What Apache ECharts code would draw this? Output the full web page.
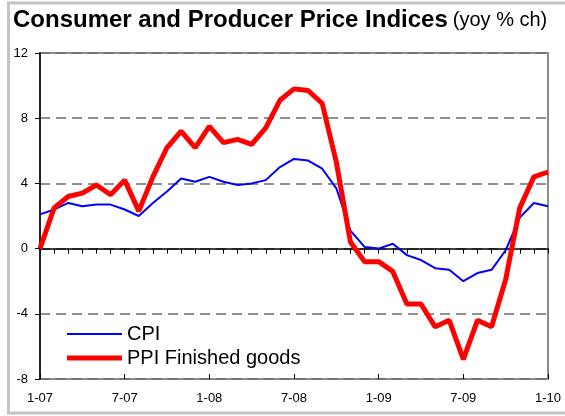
<!DOCTYPE html>
<html>
<head>
<meta charset="utf-8">
<script src="https://cdn.jsdelivr.net/npm/echarts@6/dist/echarts.min.js"></script>
<style>html,body{margin:0;padding:0;background:#fff}#c{width:565px;height:416px}</style>
</head>
<body>
<div id="c"></div>
<script>
var months = [
  '1-07','2-07','3-07','4-07','5-07','6-07','7-07','8-07','9-07','10-07','11-07','12-07',
  '1-08','2-08','3-08','4-08','5-08','6-08','7-08','8-08','9-08','10-08','11-08','12-08',
  '1-09','2-09','3-09','4-09','5-09','6-09','7-09','8-09','9-09','10-09','11-09','12-09',
  '1-10'
];
var cpi = [
  2.1, 2.4, 2.8, 2.6, 2.7, 2.7, 2.4, 2.0, 2.8, 3.5, 4.3, 4.1,
  4.4, 4.1, 3.9, 4.0, 4.2, 5.0, 5.5, 5.4, 4.9, 3.7, 1.1, 0.1,
  0.0, 0.3, -0.4, -0.7, -1.2, -1.3, -2.0, -1.5, -1.3, -0.1, 1.9, 2.8,
  2.6
];
var ppi = [
  0.0, 2.5, 3.2, 3.4, 3.9, 3.3, 4.2, 2.3, 4.4, 6.2, 7.2, 6.2,
  7.5, 6.5, 6.7, 6.4, 7.4, 9.1, 9.8, 9.7, 8.9, 5.3, 0.4, -0.8,
  -0.8, -1.4, -3.4, -3.4, -4.8, -4.4, -6.8, -4.4, -4.8, -1.9, 2.5, 4.4,
  4.7
];
var yTicks = {min: -8, max: 12, interval: 4};

var chart = echarts.init(document.getElementById('c'), null, {renderer: 'canvas'});
chart.setOption({
  animation: false,
  backgroundColor: '#fff',
  textStyle: {fontFamily: 'Liberation Sans, Arial, sans-serif'},
  title: {
    left: 8, top: 3,
    text: '{b|Consumer and Producer Price Indices} {n|(yoy % ch)}',
    textStyle: {
      rich: {
        b: {fontSize: 24, fontWeight: 'bold', color: '#000', fontFamily: 'Liberation Sans, Arial, sans-serif'},
        n: {fontSize: 20, fontWeight: 'normal', color: '#000', fontFamily: 'Liberation Sans, Arial, sans-serif'}
      }
    }
  },
  graphic: [{
    type: 'polyline',
    shape: {points: [[570, 3], [8.5, 3], [8.5, 413], [570, 413]]},
    style: {stroke: '#c4c4c4', lineWidth: 3, fill: null},
    silent: true, z: 0
  }],
  legend: {
    orient: 'vertical',
    left: 62, top: 319,
    itemWidth: 55, itemHeight: 14, itemGap: 4,
    symbolKeepAspect: true,
    itemStyle: {borderWidth: 0},
    textStyle: {fontSize: 20, color: '#000'},
    data: [
      {name: 'CPI', icon: 'path://M0,0H55V2H0Z'},
      {name: 'PPI Finished goods', icon: 'path://M0,0H55V5H0Z'}
    ]
  },
  grid: {
    left: 40, right: 17, top: 53, bottom: 37,
    show: true, borderColor: '#8a8a8a', borderWidth: 2, backgroundColor: 'transparent'
  },
  xAxis: [{
    type: 'category', data: months, boundaryGap: false,
    axisLine: {lineStyle: {color: '#000', width: 1.5}},
    axisTick: {interval: 0, length: 5, lineStyle: {color: '#000'}},
    axisLabel: {interval: 5, fontSize: 13, color: '#000', margin: 13},
    splitLine: {show: false}
  }, {
    type: 'category', data: months, boundaryGap: false, position: 'bottom',
    axisLine: {show: false},
    axisTick: {interval: 5, inside: true, length: 5, lineStyle: {color: '#000'}},
    axisLabel: {show: false},
    splitLine: {show: false}
  }],
  yAxis: {
    type: 'value', min: yTicks.min, max: yTicks.max, interval: yTicks.interval,
    axisLine: {show: true, onZero: false, lineStyle: {color: '#000', width: 1.5}},
    axisTick: {show: true, length: 5, lineStyle: {color: '#000'}},
    axisLabel: {fontSize: 13, color: '#000', margin: 12},
    splitLine: {show: true, lineStyle: {color: '#6e6e6e', width: 1.5, type: [10, 6]}}
  },
  series: [{
    name: 'CPI', type: 'line', data: cpi, symbol: 'none',
    lineStyle: {color: '#0000ff', width: 2}, itemStyle: {color: '#0000ff'}, z: 3
  }, {
    name: 'PPI Finished goods', type: 'line', data: ppi, symbol: 'none',
    lineStyle: {color: '#ff0000', width: 5}, itemStyle: {color: '#ff0000'}, z: 4
  }]
});
</script>
</body>
</html>
